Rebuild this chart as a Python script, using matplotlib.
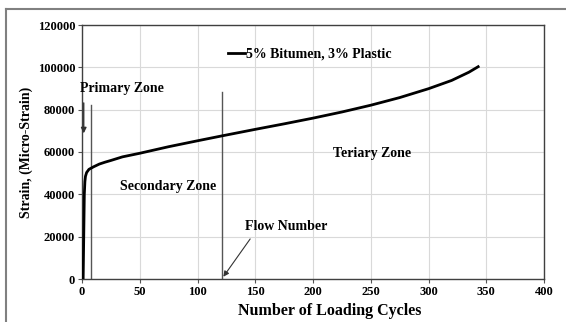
import numpy as np
import matplotlib
matplotlib.use("Agg")
import matplotlib.pyplot as plt
from matplotlib.lines import Line2D

# strain vs loading cycles, 5% bitumen / 3% plastic mix
cycles = [1, 1.5, 2, 2.5, 3, 4, 6, 10, 15, 20, 25, 35, 50, 75, 100, 121,
          150, 175, 200, 225, 250, 275, 300, 320, 335, 343]
strain = [0, 20000, 40000, 46000, 48500, 50300, 51800, 53000, 54300, 55200,
          56000, 57700, 59400, 62500, 65300, 67600, 70700, 73300, 76000,
          78900, 82100, 85700, 89900, 93800, 97700, 100300]

series_name = "5% Bitumen, 3% Plastic"
flow_number = 121
primary_end = 8

plt.rcParams['font.family'] = ['Liberation Serif', 'DejaVu Serif']
plt.rcParams['font.weight'] = 'bold'

fig = plt.figure(figsize=(5.66, 3.22), dpi=100)
ax = fig.add_axes([82/566, 1 - 279/322, 462/566, 254/322])

ax.plot(cycles, strain, color='black', lw=2, label=series_name, zorder=5)

# zone boundaries
ax.plot([primary_end, primary_end], [0, 82000], color='#555555', lw=1)
ax.plot([flow_number, flow_number], [0, 88500], color='#555555', lw=1)
ax.annotate('', xy=(1.5, 67500), xytext=(1.5, 84500),
            arrowprops=dict(arrowstyle='-|>', color='#333333', lw=1,
                            mutation_scale=8))
ax.annotate('', xy=(flow_number, 0), xytext=(147, 20000),
            arrowprops=dict(arrowstyle='-|>', color='#333333', lw=0.8,
                            mutation_scale=8))

ax.text(-1.7, 90200, 'Primary Zone', fontsize=10, fontweight='bold',
        va='center')
ax.text(75, 43900, 'Secondary Zone', fontsize=10, fontweight='bold',
        ha='center', va='center')
ax.text(251, 59500, 'Teriary Zone', fontsize=10, fontweight='bold',
        ha='center', va='center')
ax.text(141, 25000, 'Flow Number', fontsize=10, fontweight='bold',
        va='center')

ax.set_xlim(0, 400)
ax.set_ylim(0, 120000)
ax.set_xticks(np.arange(0, 401, 50))
ax.set_yticks(np.arange(0, 120001, 20000))
ax.grid(True, color='#d9d9d9', lw=0.8)
ax.set_axisbelow(True)
ax.tick_params(labelsize=9, length=3, width=0.8, color='#555555', pad=2)
for lbl in ax.get_xticklabels() + ax.get_yticklabels():
    lbl.set_fontweight('bold')
for sp in ax.spines.values():
    sp.set_color('#404040')
    sp.set_linewidth(1)

ax.set_xlabel('Number of Loading Cycles', fontsize=11.5, fontweight='bold')
ax.xaxis.set_label_coords(0.537, -0.095)
ax.set_ylabel('Strain, (Micro-Strain)', fontsize=10, fontweight='bold')
ax.yaxis.set_label_coords(-0.106, 0.5)

leg = ax.legend(loc='center left', bbox_to_anchor=(0.316, 0.886),
                frameon=False, fontsize=10, handlelength=1.25,
                handletextpad=0.05, borderpad=0, borderaxespad=0)
for t in leg.get_texts():
    t.set_fontweight('bold')

# outer frame (top and left edges)
fig.add_artist(Line2D([5.5/566, 1], [1 - 8.5/322, 1 - 8.5/322],
                      color='#808080', lw=1.5, transform=fig.transFigure))
fig.add_artist(Line2D([5.5/566, 5.5/566], [0, 1 - 8.5/322],
                      color='#808080', lw=1.5, transform=fig.transFigure))

fig.savefig('out.png', dpi=100)
